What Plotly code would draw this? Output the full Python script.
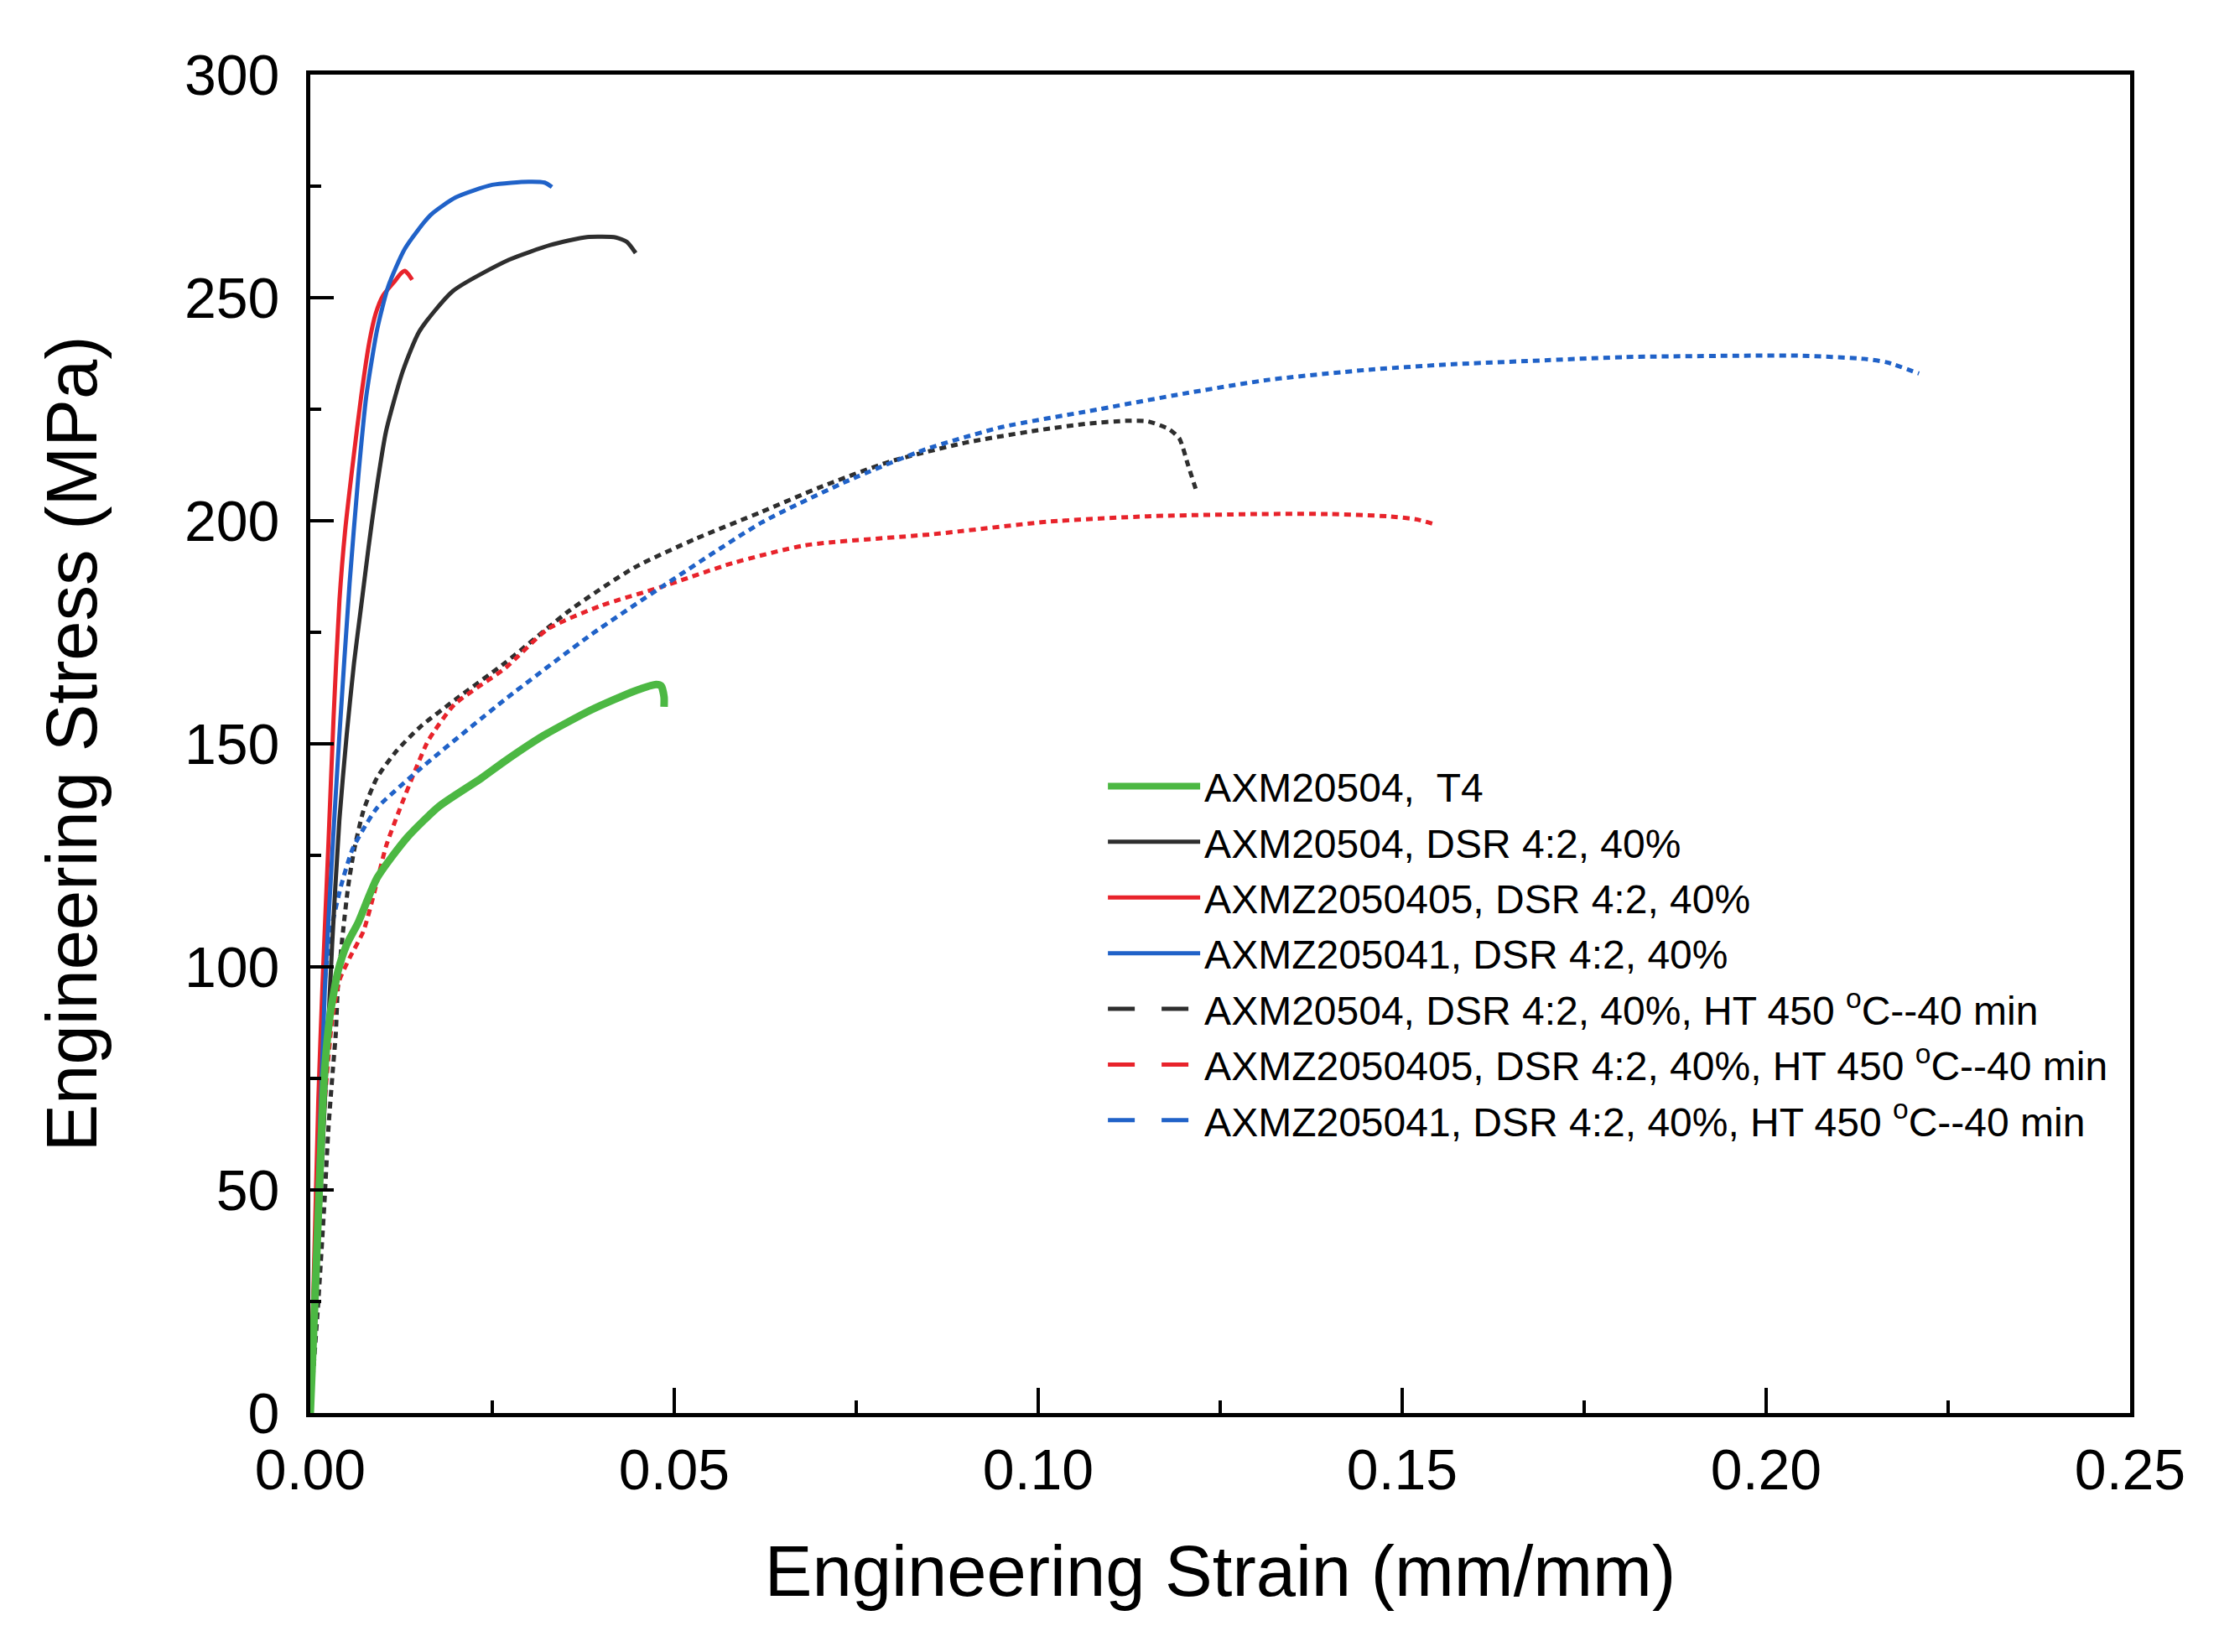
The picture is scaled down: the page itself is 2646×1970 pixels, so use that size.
import plotly.graph_objects as go

# ---------------- data ----------------
green_x = [0, 0.0008, 0.0013, 0.0019, 0.0027, 0.0038, 0.0050, 0.0066, 0.0092, 0.0133, 0.0177,
           0.0235, 0.0268, 0.0320, 0.0386, 0.0445, 0.0475, 0.0482, 0.0486, 0.0486]
green_y = [0, 32, 53, 75, 89, 99, 105, 110, 120, 129, 136,
           142.3, 146.2, 151.8, 157.6, 161.8, 163.3, 163, 160.5, 158.3]

black_x = [0, 0.001, 0.002, 0.003, 0.004, 0.005, 0.006, 0.007, 0.008, 0.009, 0.0104, 0.0127,
           0.015, 0.0196, 0.0273, 0.033, 0.038, 0.042, 0.0435, 0.0447]
black_y = [0, 35, 70, 105, 133, 152, 168, 181, 194, 206, 220, 233.5,
           242.5, 251.5, 258.5, 261.8, 263.6, 263.5, 262.5, 260]

red_x = [0, 0.0011, 0.0017, 0.0025, 0.0032, 0.004, 0.0048, 0.006, 0.007, 0.0081, 0.009,
         0.010, 0.0115, 0.0125, 0.013, 0.0135, 0.014]
red_y = [0, 70, 97, 128, 156, 182, 198, 215, 228, 240, 246.5,
         250.5, 253.5, 255.5, 256, 255.2, 254]

blue_x = [0, 0.001, 0.002, 0.003, 0.004, 0.0054, 0.0066, 0.0077, 0.0092, 0.0107, 0.013,
          0.0165, 0.02, 0.025, 0.03, 0.0322, 0.0332]
blue_y = [0, 48, 95, 125, 152, 186, 210, 228, 243, 252.5, 261,
          268.5, 272.5, 275.3, 276, 275.8, 274.8]

black_ht_x = [0, 0.0011, 0.0019, 0.0025, 0.0031, 0.0035, 0.0038, 0.0045, 0.0052, 0.006, 0.0073,
              0.0092, 0.0119, 0.0151, 0.02, 0.0268, 0.0357, 0.0445, 0.053, 0.062, 0.07, 0.0797,
              0.09, 0.1, 0.107, 0.112, 0.115, 0.118, 0.1194, 0.1206, 0.1217]
black_ht_y = [0, 25, 46, 64, 77, 85, 96, 108, 118, 126, 135,
              142.5, 148.5, 153.8, 160, 168.2, 180, 189.5, 196, 202, 207.5, 213.3,
              217.5, 220.3, 221.8, 222.4, 222.3, 220.5, 218.4, 212.4, 206.8]

red_ht_x = [0, 0.001, 0.002, 0.003, 0.004, 0.0054, 0.0073, 0.0088, 0.0104, 0.0122, 0.0145,
            0.0162, 0.0198, 0.0268, 0.0327, 0.04, 0.0483, 0.058, 0.068, 0.0856, 0.1014,
            0.115, 0.13, 0.14, 0.148, 0.152, 0.1545]
red_ht_y = [0, 40, 70, 88, 97, 102, 108, 116.7, 127, 135, 144.4,
            150.7, 158.8, 167, 175.8, 181, 185.2, 190.5, 194.5, 197, 199.8,
            201, 201.5, 201.5, 201, 200.3, 199.2]

blue_ht_x = [0, 0.0012, 0.0019, 0.0027, 0.0042, 0.0058, 0.0077, 0.0092, 0.0151, 0.0268, 0.0386,
             0.0483, 0.062, 0.0739, 0.0845, 0.095, 0.107, 0.12, 0.1317, 0.145, 0.156, 0.17,
             0.1807, 0.197, 0.205, 0.2134, 0.2166, 0.221]
blue_ht_y = [0, 65, 95, 107, 118, 126.4, 132, 135.7, 144.4, 160, 174.5,
             185.2, 199.6, 209, 216, 221, 224.6, 228.5, 231.6, 233.8, 235, 236,
             236.7, 237, 237, 236.3, 235.5, 233]

names = [
    "AXM20504,  T4",
    "AXM20504, DSR 4:2, 40%",
    "AXMZ2050405, DSR 4:2, 40%",
    "AXMZ205041, DSR 4:2, 40%",
    "AXM20504, DSR 4:2, 40%, HT 450 <sup>o</sup>C--40 min",
    "AXMZ2050405, DSR 4:2, 40%, HT 450 <sup>o</sup>C--40 min",
    "AXMZ205041, DSR 4:2, 40%, HT 450 <sup>o</sup>C--40 min",
]

x_ticks = [0.0, 0.05, 0.10, 0.15, 0.20, 0.25]
x_ticktext = ["0.00", "0.05", "0.10", "0.15", "0.20", "0.25"]
y_ticks = [0, 50, 100, 150, 200, 250, 300]

# ---------------- styles ----------------
GREEN = "#4cb843"
BLACK = "#2e2e2e"
RED = "#e8232b"
BLUE = "#2062c8"
FONT = "Liberation Sans, Arial, Helvetica, sans-serif"

series = [
    (green_x, green_y, GREEN, 9, "solid"),
    (black_x, black_y, BLACK, 5, "solid"),
    (red_x, red_y, RED, 5, "solid"),
    (blue_x, blue_y, BLUE, 5, "solid"),
    (black_ht_x, black_ht_y, BLACK, 5, "8px,6px"),
    (red_ht_x, red_ht_y, RED, 5, "8px,6px"),
    (blue_ht_x, blue_ht_y, BLUE, 5, "8px,6px"),
]
legend_dash = ["solid", "solid", "solid", "solid", "32px,32px", "32px,32px", "32px,32px"]
legend_width = [8, 5, 5, 5, 5, 5, 5]

fig = go.Figure()

# draw order: dashed first, then solid, green on top
draw_order = [4, 5, 6, 1, 2, 3, 0]
for i in draw_order:
    xs, ys, col, w, dash = series[i]
    fig.add_trace(go.Scatter(
        x=xs, y=ys, mode="lines", name=names[i], legendgroup=f"g{i}",
        showlegend=False, line=dict(color=col, width=w, dash=dash, shape="spline", smoothing=0.6),
    ))

# legend entries (in reference order)
for i in range(7):
    col = series[i][2]
    fig.add_trace(go.Scatter(
        x=[None], y=[None], mode="lines", name=names[i], legendgroup=f"g{i}",
        showlegend=True, line=dict(color=col, width=legend_width[i], dash=legend_dash[i]),
    ))

axis_common = dict(
    showline=True, linewidth=5, linecolor="black", mirror=True,
    showgrid=False, zeroline=False,
    ticks="inside", tickwidth=4, tickcolor="black",
    tickfont=dict(family=FONT, size=68, color="black"),
)

fig.update_xaxes(
    range=[0, 0.25], tickvals=x_ticks, ticktext=x_ticktext, ticklen=30,
    minor=dict(dtick=0.025, tick0=0, ticks="inside", ticklen=15, tickwidth=4, tickcolor="black"),
    title=dict(text="Engineering Strain (mm/mm)", font=dict(family=FONT, size=85, color="black"), standoff=56),
    ticklabelstandoff=4,
    **axis_common,
)
fig.update_yaxes(
    range=[0, 300], tickvals=y_ticks, ticklen=28,
    minor=dict(dtick=25, tick0=0, ticks="inside", ticklen=13, tickwidth=4, tickcolor="black"),
    title=dict(text="Engineering Stress (MPa)", font=dict(family=FONT, size=85, color="black"), standoff=78),
    ticklabelstandoff=18,
    **axis_common,
)

fig.update_layout(
    width=2646, height=1970,
    margin=dict(l=370, r=106, t=89, b=285),
    paper_bgcolor="white", plot_bgcolor="white",
    font=dict(family=FONT, color="black"),
    legend=dict(
        x=0.436, y=0.492, xanchor="left", yanchor="top",
        bgcolor="rgba(0,0,0,0)", borderwidth=0,
        font=dict(family=FONT, size=48, color="black"),
        itemwidth=110, tracegroupgap=1,
    ),
)

fig.write_html("out.html")
